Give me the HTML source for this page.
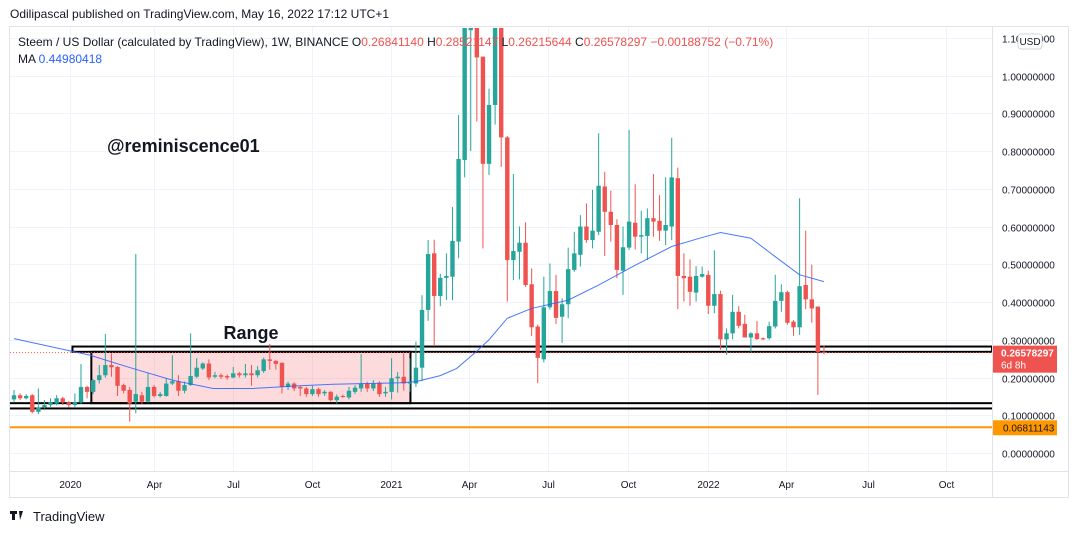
<!DOCTYPE html>
<html><head><meta charset="utf-8">
<style>
body{margin:0;background:#fff;width:1079px;height:533px;overflow:hidden;font-family:"Liberation Sans",sans-serif;}
svg{position:absolute;left:0;top:0}
</style></head>
<body>
<svg id="chart" width="1079" height="533" viewBox="0 0 1079 533" xmlns="http://www.w3.org/2000/svg">
<defs><clipPath id="pane"><rect x="10" y="28" width="982" height="443"/></clipPath></defs>
<rect x="0" y="0" width="1079" height="533" fill="#fff"/>
<text x="10" y="18" font-size="12" fill="#131722">Odilipascal published on TradingView.com, May 16, 2022 17:12 UTC+1</text>
<rect x="9.5" y="26.5" width="1059" height="471" fill="none" stroke="#e0e3eb"/>
<line x1="992.5" y1="27" x2="992.5" y2="497" stroke="#e0e3eb"/>
<line x1="10" y1="471.5" x2="1068" y2="471.5" stroke="#e0e3eb"/>
<g id="grid"></g>
<g id="plot" clip-path="url(#pane)"></g>
<g id="axes"></g>
<text x="18" y="46" font-size="12" fill="#131722">Steem / US Dollar (calculated by TradingView), 1W, BINANCE  <tspan>O</tspan><tspan fill="#ef5350">0.26841140</tspan>  H<tspan fill="#ef5350">0.28521147</tspan>  L<tspan fill="#ef5350">0.26215644</tspan>  C<tspan fill="#ef5350">0.26578297</tspan>  <tspan fill="#ef5350">−0.00188752 (−0.71%)</tspan></text>
<text x="18" y="63" font-size="12" fill="#131722">MA  <tspan fill="#2962ff">0.44980418</tspan></text>
<text x="107" y="152" font-size="18" font-weight="bold" fill="#131722">@reminiscence01</text>
<rect x="1018" y="34" width="24" height="15" rx="3" fill="#fff" stroke="#d1d4dc"/>
<text x="1030" y="45" font-size="10" text-anchor="middle" fill="#131722">USD</text>
<g>
<rect x="10" y="511" width="7" height="3" fill="#131722"/><rect x="12" y="511" width="3" height="9" fill="#131722"/>
<polygon points="19,511 23,511 20,520" fill="#131722"/>
<text x="33" y="521" font-size="13" fill="#131722">TradingView</text>
</g>
</svg>
<script>
const opens=[.142,.153,.145,.153,.109,.121,.127,.131,.145,.134,.127,.134,.175,.162,.193,.206,.233,.228,.180,.167,.136,.153,.136,.175,.151,.151,.184,.190,.165,.180,.202,.224,.237,.202,.206,.204,.200,.211,.206,.211,.206,.217,.248,.244,.239,.175,.184,.175,.171,.156,.169,.158,.162,.140,.151,.147,.162,.171,.184,.171,.186,.158,.162,.198,.202,.184,.184,.226,.379,.529,.416,.464,.467,.560,.776,1.12,1.3,1.05,.766,.922,1.2,.836,.511,.533,.557,.447,.335,.248,.386,.429,.361,.394,.485,.525,.600,.564,.586,.706,.639,.604,.483,.544,.610,.573,.575,.622,.615,.589,.600,.728,.469,.467,.425,.467,.472,.390,.421,.301,.317,.374,.342,.306,.317,.304,.304,.335,.403,.426,.348,.333,.445,.407,.388,.268];
const highs=[.167,.158,.156,.156,.171,.140,.145,.153,.149,.137,.158,.236,.178,.195,.233,.315,.264,.230,.184,.175,.527,.162,.211,.180,.162,.198,.259,.206,.189,.317,.251,.240,.248,.215,.211,.208,.228,.215,.236,.233,.230,.253,.289,.246,.240,.189,.187,.178,.175,.178,.173,.167,.164,.155,.155,.175,.180,.262,.189,.193,.190,.175,.251,.215,.264,.251,.295,.418,.564,.565,.475,.529,.652,.895,1.3,1.4,1.4,1.05,.965,1.35,1.3,.84,.739,.600,.611,.489,.34,.467,.502,.472,.41,.544,.586,.630,.661,.697,.847,.745,.695,.619,.600,.856,.712,.642,.648,.739,.683,.730,.835,.756,.529,.513,.495,.494,.483,.537,.43,.33,.419,.389,.366,.32,.350,.306,.348,.472,.447,.43,.352,.675,.589,.499,.388,.285];
const lows=[.136,.140,.142,.105,.103,.118,.122,.127,.127,.121,.122,.130,.145,.156,.184,.200,.202,.151,.158,.083,.105,.130,.134,.147,.147,.149,.180,.151,.158,.178,.198,.220,.193,.198,.196,.194,.198,.200,.200,.178,.200,.212,.221,.221,.158,.167,.164,.151,.149,.151,.149,.151,.137,.131,.146,.142,.156,.162,.162,.164,.149,.149,.142,.160,.165,.162,.175,.190,.350,.283,.389,.405,.405,.516,.730,.80,.878,.542,.736,.87,.758,.401,.458,.46,.44,.310,.185,.24,.38,.342,.292,.357,.48,.494,.557,.542,.577,.522,.560,.463,.419,.538,.539,.529,.511,.573,.562,.551,.564,.381,.401,.390,.401,.465,.368,.370,.273,.260,.301,.33,.306,.268,.299,.299,.30,.330,.374,.34,.310,.313,.381,.345,.154,.262];
const closes=[.153,.145,.151,.109,.121,.127,.134,.145,.134,.127,.134,.175,.162,.193,.206,.233,.227,.178,.165,.131,.156,.136,.175,.151,.156,.184,.190,.165,.180,.204,.226,.237,.200,.206,.202,.200,.211,.206,.211,.206,.219,.248,.244,.236,.175,.184,.171,.171,.156,.169,.156,.162,.140,.149,.149,.165,.173,.184,.171,.184,.156,.162,.198,.202,.184,.187,.226,.379,.527,.416,.464,.469,.562,.779,1.13,1.3,1.048,.766,.922,1.2,.836,.511,.535,.557,.445,.333,.252,.386,.429,.358,.394,.487,.529,.600,.564,.589,.708,.639,.604,.485,.545,.613,.573,.577,.622,.613,.589,.604,.730,.469,.463,.427,.469,.474,.390,.421,.301,.317,.374,.337,.306,.317,.302,.301,.336,.403,.426,.345,.333,.442,.407,.383,.268,.266];
const maIndex=[0,12.5,19.5,26,32.7,39.2,47,52.4,58,63.4,66,70,72.7,76,78,81,85,91,96,101.6,108,112.6,116,121,125,129,133];
const maValues=[.303,.259,.224,.193,.171,.171,.178,.182,.184,.186,.189,.205,.224,.27,.30,.357,.383,.405,.445,.494,.547,.569,.584,.569,.520,.472,.454];
const priceTicks=[0,0.1,0.2,0.3,0.4,0.5,0.6,0.7,0.8,0.9,1.0,1.1];
const timeTickLabels=["2020","Apr","Jul","Oct","2021","Apr","Jul","Oct","2022","Apr","Jul","Oct"];
const timeTickIndex=[9.2,23.0,36.0,48.9,61.9,74.7,87.7,100.8,114.0,126.8,140.2,153.0];
const rangeLevels=[0.268,0.282,0.118,0.132];
const supportLevel=0.06811143;
const lastPrice=0.26578297;

const NS="http://www.w3.org/2000/svg";
const xOf=i=>14+i*6.09;
const yOf=v=>453-v*377.5;
function mk(tag,attrs,parent){const e=document.createElementNS(NS,tag);for(const k in attrs)e.setAttribute(k,attrs[k]);parent.appendChild(e);return e;}
const grid=document.getElementById('grid'),plot=document.getElementById('plot'),axes=document.getElementById('axes');
priceTicks.forEach(v=>{
  const y=Math.round(yOf(v))+.5;
  const l=mk('line',{x1:10,x2:992,y1:y,y2:y,stroke:'#f0f3fa'},grid);
  
  
  const t=mk('text',{x:1002,y:y+4,'font-size':10,fill:'#131722'},axes);
  
  
  t.textContent=v.toFixed(8);
});
timeTickIndex.forEach((ix,k)=>{
  const x=Math.round(xOf(ix))+.5;
  const l=mk('line',{x1:x,x2:x,y1:27,y2:471,stroke:'#f0f3fa'},grid);
  
  
  const t=mk('text',{x:x,y:488,'font-size':10,'text-anchor':'middle',fill:'#131722'},axes);
  
  
  t.textContent=timeTickLabels[k];
});
const box=mk('rect',{x:xOf(12.7),y:yOf(rangeLevels[0]),width:xOf(65.1)-xOf(12.7),height:yOf(rangeLevels[3])-yOf(rangeLevels[0]),fill:'rgba(242,54,69,0.18)',stroke:'#000','stroke-width':2},plot);


const up=mk('rect',{x:xOf(9.6),y:yOf(rangeLevels[1]),width:992-xOf(9.6),height:yOf(rangeLevels[0])-yOf(rangeLevels[1]),fill:'none',stroke:'#000','stroke-width':2},plot);


const lo=mk('rect',{x:9,y:yOf(rangeLevels[3]),width:984,height:yOf(rangeLevels[2])-yOf(rangeLevels[3]),fill:'none',stroke:'#000','stroke-width':2},plot);


const sl=mk('line',{x1:10,x2:992,y1:yOf(supportLevel),y2:yOf(supportLevel),stroke:'#ff9800','stroke-width':2},plot);


const lp=mk('line',{x1:10,x2:992,y1:yOf(lastPrice),y2:yOf(lastPrice),stroke:'#ef5350','stroke-width':1,'stroke-dasharray':'1,2'},plot);


opens.forEach((o,i)=>{
  const c=closes[i],col=c>=o?'#26a69a':'#ef5350',x=xOf(i);
  const g=mk('g',{},plot);
  
  
  mk('line',{x1:x,x2:x,y1:yOf(highs[i]),y2:yOf(lows[i]),stroke:col,'stroke-width':1},g);
  const t=yOf(Math.max(o,c)),b=yOf(Math.min(o,c));
  mk('rect',{x:x-2.2,y:t,width:4.4,height:Math.max(1,b-t),fill:col},g);
});
const ma=mk('polyline',{points:maIndex.map((ix,k)=>xOf(ix)+','+yOf(maValues[k])).join(' '),fill:'none',stroke:'#2962ff','stroke-width':1,opacity:0.85},plot);


const rl=mk('text',{x:251,y:339,'font-size':18,'font-weight':'bold','text-anchor':'middle',fill:'#131722'},plot);


rl.textContent='Range';
const y1=yOf(lastPrice);
const pb=mk('rect',{x:993,y:y1-7,width:64,height:27,fill:'#ef5350'},axes);


const pt=mk('text',{x:1001,y:y1+4,'font-size':10,'font-weight':'bold',fill:'#fff'},axes);
pt.textContent=lastPrice.toFixed(8);
const pt2=mk('text',{x:1001,y:y1+16,'font-size':10,fill:'#fff'},axes);
pt2.textContent='6d 8h';
const y2=yOf(supportLevel);
const ob=mk('rect',{x:993,y:y2-7,width:64,height:15,fill:'#ff9800'},axes);


const ot=mk('text',{x:1003,y:y2+4,'font-size':10,fill:'#131722'},axes);
ot.textContent=supportLevel.toFixed(8);
</script>
</body></html>
